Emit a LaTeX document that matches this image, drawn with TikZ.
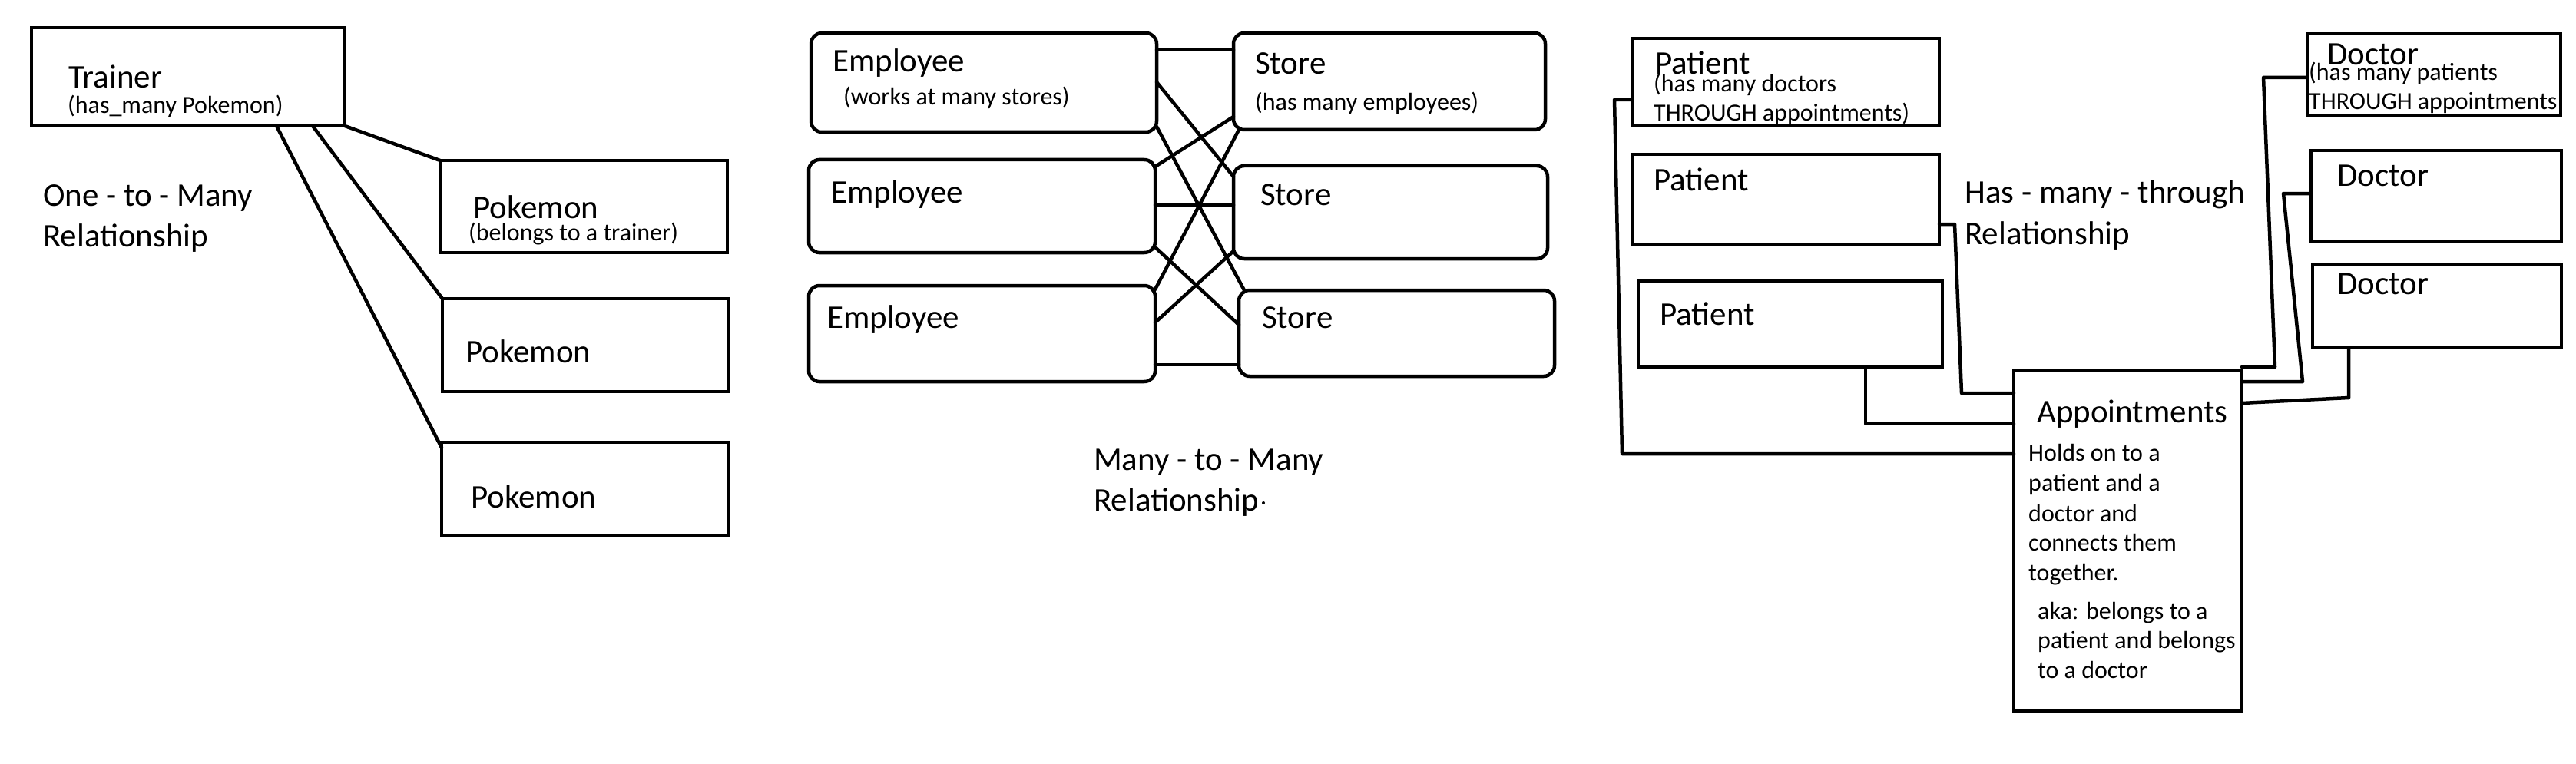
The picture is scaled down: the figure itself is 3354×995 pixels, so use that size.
\documentclass[tikz,border=0pt]{standalone}
\usepackage{fontspec}
\setmainfont{Carlito}
\newcommand{\bigtxt}{\fontsize{43}{43}\selectfont}
\newcommand{\smalltxt}{\fontsize{32}{39}\selectfont}
\begin{document}
\begin{tikzpicture}[x=1pt,y=-1pt,
  box/.style={draw, line width=4.5pt, anchor=north west, inner sep=0pt, outer sep=0pt},
  rbox/.style={box, rounded corners=14pt},
  big/.style={anchor=base west, inner sep=0pt, font=\bigtxt},
  small/.style={anchor=base west, inner sep=0pt, font=\smalltxt},
  wire/.style={line width=4.5pt, line cap=round, line join=round}]
\fill[white] (0,0) rectangle (3354,995);
\useasboundingbox (0,0) rectangle (3354,995);

% ---------- One-to-Many ----------
\node[box, minimum width=408pt, minimum height=128pt] (trainer) at (41,36) {};
\node[box, minimum width=374pt, minimum height=120pt] (poke1) at (573,209) {};
\node[box, minimum width=372pt, minimum height=121pt] (poke2) at (576,389) {};
\node[box, minimum width=373pt, minimum height=121pt] (poke3) at (575,576) {};
\node[big] (tTrainer) at (89,115) {Trainer};
\node[small] (tTrainerSub) at (88,148) {(has\_many Pokemon)};
\node[big] (tPoke1) at (616,284) {Pokemon};
\node[small] (tPoke1Sub) at (610,313) {(belongs to a trainer)};
\node[big] (tPoke2) at (606,472) {Pokemon};
\node[big] (tPoke3) at (613,661) {Pokemon};
\node[big] (tOtm1) at (56,268) {One - to - Many};
\node[big] (tOtm2) at (56,321) {Relationship};
\draw[wire] (trainer.south east) -- (poke1.north west);
\draw[wire] (trainer.south -| 407,0) -- (poke2.north west);
\draw[wire] (trainer.south -| 360,0) -- (poke3.west |- 0,583);

% ---------- Many-to-Many ----------
\node[rbox, minimum width=450pt, minimum height=129pt] (E1) at (1056,43) {};
\node[rbox, minimum width=451pt, minimum height=121pt] (E2) at (1053,208) {};
\node[rbox, minimum width=451pt, minimum height=125pt] (E3) at (1053,372) {};
\node[rbox, minimum width=406pt, minimum height=126pt] (S1) at (1606,43) {};
\node[rbox, minimum width=409pt, minimum height=121pt] (S2) at (1606,216) {};
\node[rbox, minimum width=411pt, minimum height=112pt] (S3) at (1613,378) {};
\node[big] (tE1) at (1084,94) {Employee};
\node[small] (tE1Sub) at (1098,137) {(works at many stores)};
\node[big] (tE2) at (1082,264) {Employee};
\node[big] (tE3) at (1077,427) {Employee};
\node[big] (tS1) at (1634,97) {Store};
\node[small] (tS1Sub) at (1634,144) {(has many employees)};
\node[big] (tS2) at (1641,267) {Store};
\node[big] (tS3) at (1643,427) {Store};
\node[big] (tMtm1) at (1424,612) {Many - to - Many};
\node[big] (tMtm2) at (1424,665) {Relationship};
\fill (1645,655) circle (2pt);
\draw[wire] (E1.east |- 0,65) -- (S1.west |- 0,65);
\draw[wire] (E1.east |- 0,107) -- (S2.west |- 0,230);
\draw[wire] (E1.east |- 0,165) -- (S3.north -| 1620,0);
\draw[wire] (E2.east |- 0,217) -- (S1.west |- 0,152);
\draw[wire] (E2.east |- 0,267) -- (S2.west |- 0,267);
\draw[wire] (E2.east |- 0,322) -- (S3.west |- 0,423);
\draw[wire] (E3.east |- 0,377) -- (S1.south -| 1613,0);
\draw[wire] (E3.east |- 0,420) -- (S2.west |- 0,327);
\draw[wire] (E3.east |- 0,475) -- (S3.west |- 0,475);

% ---------- Has-many-through ----------
\node[box, minimum width=400pt, minimum height=114pt] (P1) at (2125,50) {};
\node[box, minimum width=400pt, minimum height=117pt] (P2) at (2125,201) {};
\node[box, minimum width=396pt, minimum height=112pt] (P3) at (2133,366) {};
\node[box, minimum width=330pt, minimum height=106pt] (D1) at (3004,44) {};
\node[box, minimum width=326pt, minimum height=118pt] (D2) at (3009,196) {};
\node[box, minimum width=324pt, minimum height=108pt] (D3) at (3011,345) {};
\node[box, minimum width=297pt, minimum height=443pt] (Appt) at (2622,483) {};
\node[big] (tP1) at (2155,97) {Patient};
\node[small] (tP1a) at (2153,120) {(has many doctors};
\node[small] (tP1b) at (2153,158) {THROUGH appointments)};
\node[big] (tP2) at (2153,248) {Patient};
\node[big] (tP3) at (2161,423) {Patient};
\node[big] (tHmt1) at (2558,265) {Has - many - through};
\node[big] (tHmt2) at (2558,318) {Relationship};
\node[big] (tD1) at (3030,85) {Doctor};
\node[small] (tD1a) at (3006,105) {(has many patients};
\node[small] (tD1b) at (3006,143) {THROUGH appointments};
\node[big] (tD2) at (3043,242) {Doctor};
\node[big] (tD3) at (3043,383) {Doctor};
\node[big] (tAppt) at (2652,550) {Appointments};
\node[small] (tA1) at (2641,600) {Holds on to a};
\node[small] (tA2) at (2641,639) {patient and a};
\node[small] (tA3) at (2641,679) {doctor and};
\node[small] (tA4) at (2641,717) {connects them};
\node[small] (tA5) at (2641,756) {together.};
\node[small] (tA6) at (2653,806) {aka: belongs to a};
\node[small] (tA7) at (2653,844) {patient and belongs};
\node[small] (tA8) at (2653,883) {to a doctor};
\draw[wire] (P1.west |- 0,130) -- (2102,130) -- (2112,591) -- (Appt.west |- 0,591);
\draw[wire] (P3.south -| 2429,0) -- (2429,552) -- (Appt.west |- 0,552);
\draw[wire] (P2.east |- 0,292) -- (2545,292) -- (2554,512) -- (Appt.west |- 0,512);
\draw[wire] (D1.west |- 0,101) -- (2947,101) -- (2962,478) -- (Appt.east |- 0,478);
\draw[wire] (D2.west |- 0,252) -- (2973,252) -- (2998,497) -- (Appt.east |- 0,497);
\draw[wire] (D3.south -| 3058,0) -- (3058,518) -- (Appt.east |- 0,525);
\end{tikzpicture}
\end{document}
